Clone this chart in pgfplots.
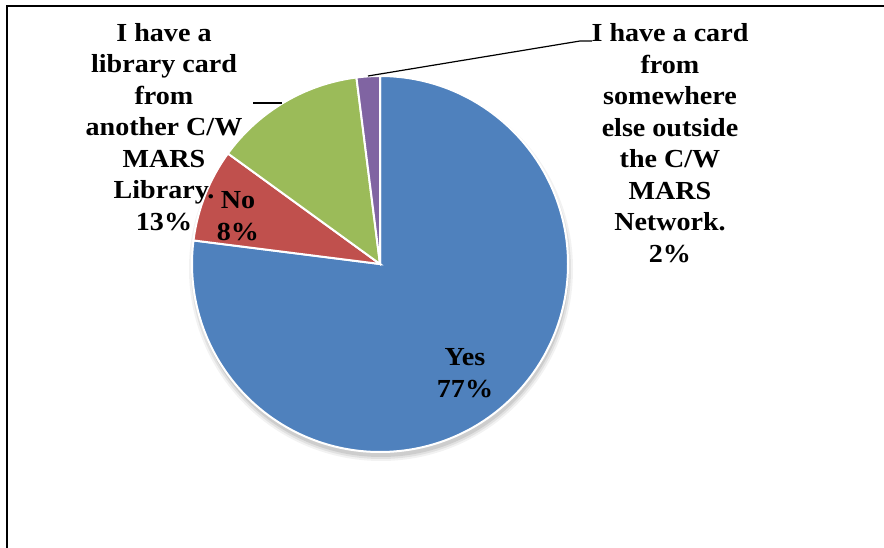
\documentclass[border=0pt]{standalone}
\usepackage{pgfplots}
\pgfplotsset{compat=1.18}
\usepackage{fontspec}
\setmainfont{Liberation Serif}[FakeStretch=1.08]
\definecolor{cyes}{HTML}{4F81BD}
\definecolor{cno}{HTML}{C0504D}
\definecolor{cother}{HTML}{9BBB59}
\definecolor{coutside}{HTML}{8064A2}
\tikzset{lbl/.style={font=\fontsize{26}{31.5}\selectfont\bfseries, align=center, text=black}}
\begin{document}
\begin{tikzpicture}
\path[use as bounding box] (0pt,0pt) rectangle (884pt,-548pt);
\begin{axis}[hide axis, scale only axis, width=884pt, height=548pt,
  xmin=0, xmax=884, ymin=-548, ymax=0, clip=false,
  at={(0pt,-548pt)}, anchor=south west]
% frame
\draw[line width=1.8pt] (axis cs:7,-548) -- (axis cs:7,-6) -- (axis cs:884,-6);
% soft shadow
\fill[black, opacity=0.05] (axis cs:381,-269) circle[radius=192pt];
\fill[black, opacity=0.07] (axis cs:381,-269) circle[radius=190pt];
\fill[black, opacity=0.09] (axis cs:381,-269) circle[radius=188pt];
% slices: Yes 77, No 8, another C/W MARS library 13, outside network 2 (percent)
\filldraw[fill=cyes, draw=white, line width=2pt] (axis cs:380,-264) -- ++(90:188pt)
  arc[start angle=90, delta angle={-3.6*77}, radius=188pt] -- cycle;
\filldraw[fill=cno, draw=white, line width=2pt] (axis cs:380,-264) -- ++({90-3.6*77}:188pt)
  arc[start angle={90-3.6*77}, delta angle={-3.6*8}, radius=188pt] -- cycle;
\filldraw[fill=cother, draw=white, line width=2pt] (axis cs:380,-264) -- ++({90-3.6*85}:188pt)
  arc[start angle={90-3.6*85}, delta angle={-3.6*13}, radius=188pt] -- cycle;
\filldraw[fill=coutside, draw=white, line width=2pt] (axis cs:380,-264) -- ++({90-3.6*98}:188pt)
  arc[start angle={90-3.6*98}, delta angle={-3.6*2}, radius=188pt] -- cycle;
% leader lines
\draw[line width=1.2pt] (axis cs:253,-103) -- (axis cs:282,-103);
\draw[line width=1.2pt] (axis cs:368,-76) -- (axis cs:580,-41) -- (axis cs:592,-41);
% labels
\node[lbl] at (axis cs:164,-127) {I have a\\library card\\from\\another C/W\\MARS\\Library.\\13\%};
\node[lbl] at (axis cs:670,-143) {I have a card\\from\\somewhere\\else outside\\the C/W\\MARS\\Network.\\2\%};
\node[lbl] at (axis cs:238,-216) {No\\8\%};
\node[lbl] at (axis cs:465,-373) {Yes\\77\%};
\end{axis}
\end{tikzpicture}
\end{document}
